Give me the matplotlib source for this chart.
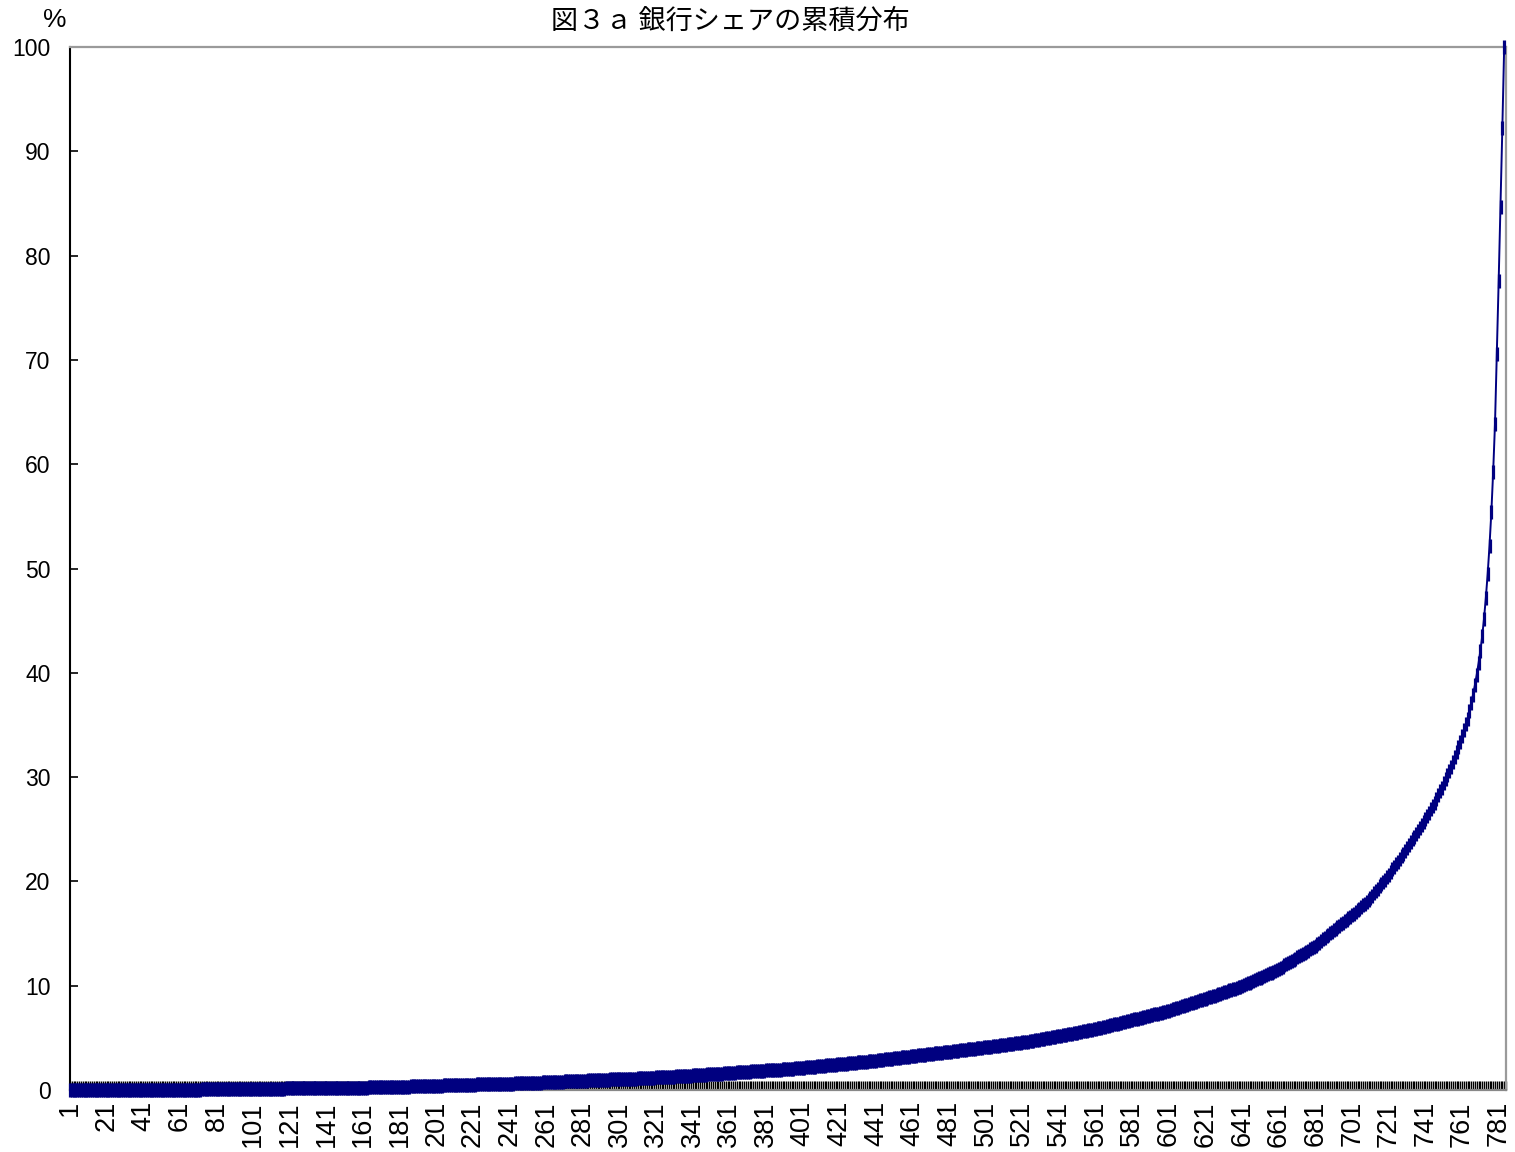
import matplotlib
matplotlib.use("Agg")
import matplotlib.pyplot as plt
from matplotlib.ticker import FixedLocator, FuncFormatter

title = "図３ａ 銀行シェアの累積分布"
y_unit = "%"

# cumulative share (%) of banks sorted by size, smallest first
cum_share = [
    0.00, 0.00, 0.00, 0.00, 0.00, 0.00, 0.00, 0.00, 0.00, 0.00,
    0.00, 0.00, 0.00, 0.00, 0.00, 0.00, 0.00, 0.00, 0.00, 0.00,
    0.01, 0.01, 0.01, 0.01, 0.01, 0.01, 0.01, 0.01, 0.01, 0.01,
    0.01, 0.01, 0.01, 0.01, 0.01, 0.02, 0.02, 0.02, 0.02, 0.02,
    0.02, 0.02, 0.02, 0.02, 0.02, 0.02, 0.02, 0.02, 0.02, 0.02,
    0.03, 0.03, 0.03, 0.03, 0.03, 0.03, 0.03, 0.03, 0.03, 0.03,
    0.03, 0.03, 0.04, 0.04, 0.04, 0.04, 0.04, 0.04, 0.04, 0.04,
    0.04, 0.04, 0.05, 0.05, 0.05, 0.05, 0.05, 0.05, 0.05, 0.06,
    0.06, 0.06, 0.06, 0.06, 0.06, 0.07, 0.07, 0.07, 0.07, 0.07,
    0.08, 0.08, 0.08, 0.08, 0.08, 0.09, 0.09, 0.09, 0.09, 0.09,
    0.10, 0.10, 0.10, 0.10, 0.11, 0.11, 0.11, 0.11, 0.12, 0.12,
    0.12, 0.12, 0.13, 0.13, 0.13, 0.14, 0.14, 0.14, 0.15, 0.15,
    0.15, 0.15, 0.15, 0.16, 0.16, 0.16, 0.16, 0.16, 0.16, 0.16,
    0.16, 0.16, 0.17, 0.17, 0.17, 0.17, 0.17, 0.18, 0.18, 0.18,
    0.18, 0.18, 0.19, 0.19, 0.19, 0.19, 0.19, 0.20, 0.20, 0.20,
    0.20, 0.21, 0.21, 0.21, 0.21, 0.22, 0.22, 0.22, 0.22, 0.22,
    0.23, 0.23, 0.23, 0.24, 0.24, 0.24, 0.25, 0.25, 0.25, 0.26,
    0.26, 0.27, 0.27, 0.27, 0.28, 0.28, 0.29, 0.29, 0.29, 0.30,
    0.31, 0.31, 0.32, 0.32, 0.33, 0.33, 0.34, 0.34, 0.35, 0.36,
    0.36, 0.37, 0.37, 0.38, 0.38, 0.39, 0.39, 0.40, 0.41, 0.41,
    0.42, 0.42, 0.43, 0.43, 0.44, 0.44, 0.45, 0.45, 0.46, 0.46,
    0.47, 0.47, 0.48, 0.48, 0.49, 0.49, 0.50, 0.50, 0.51, 0.51,
    0.52, 0.52, 0.53, 0.53, 0.54, 0.54, 0.55, 0.55, 0.56, 0.56,
    0.57, 0.57, 0.58, 0.58, 0.59, 0.59, 0.60, 0.60, 0.60, 0.61,
    0.61, 0.62, 0.62, 0.63, 0.63, 0.63, 0.64, 0.64, 0.65, 0.65,
    0.66, 0.66, 0.67, 0.68, 0.69, 0.70, 0.70, 0.71, 0.72, 0.73,
    0.74, 0.75, 0.75, 0.76, 0.77, 0.78, 0.79, 0.80, 0.81, 0.81,
    0.82, 0.83, 0.84, 0.85, 0.85, 0.86, 0.87, 0.88, 0.88, 0.89,
    0.90, 0.91, 0.91, 0.92, 0.93, 0.94, 0.94, 0.95, 0.96, 0.97,
    0.97, 0.98, 0.99, 1.00, 1.00, 1.01, 1.02, 1.02, 1.03, 1.04,
    1.04, 1.05, 1.06, 1.06, 1.07, 1.08, 1.08, 1.09, 1.10, 1.10,
    1.11, 1.12, 1.13, 1.14, 1.14, 1.15, 1.16, 1.17, 1.18, 1.19,
    1.20, 1.21, 1.21, 1.22, 1.23, 1.24, 1.25, 1.26, 1.27, 1.28,
    1.29, 1.30, 1.31, 1.32, 1.33, 1.35, 1.36, 1.37, 1.38, 1.39,
    1.40, 1.41, 1.42, 1.43, 1.44, 1.46, 1.47, 1.48, 1.49, 1.50,
    1.52, 1.53, 1.54, 1.55, 1.56, 1.57, 1.58, 1.60, 1.61, 1.62,
    1.63, 1.65, 1.66, 1.67, 1.68, 1.70, 1.71, 1.72, 1.73, 1.74,
    1.76, 1.77, 1.78, 1.79, 1.80, 1.81, 1.83, 1.84, 1.85, 1.86,
    1.87, 1.88, 1.89, 1.90, 1.91, 1.93, 1.94, 1.95, 1.96, 1.97,
    1.98, 1.99, 2.00, 2.02, 2.03, 2.05, 2.07, 2.08, 2.10, 2.12,
    2.13, 2.15, 2.17, 2.18, 2.20, 2.22, 2.23, 2.25, 2.27, 2.28,
    2.30, 2.32, 2.33, 2.35, 2.37, 2.38, 2.40, 2.42, 2.43, 2.45,
    2.47, 2.49, 2.50, 2.52, 2.54, 2.56, 2.57, 2.59, 2.61, 2.63,
    2.64, 2.66, 2.68, 2.70, 2.71, 2.73, 2.75, 2.77, 2.78, 2.80,
    2.82, 2.84, 2.86, 2.88, 2.91, 2.93, 2.95, 2.97, 2.99, 3.01,
    3.03, 3.05, 3.07, 3.09, 3.12, 3.14, 3.16, 3.18, 3.20, 3.22,
    3.24, 3.26, 3.28, 3.31, 3.33, 3.35, 3.37, 3.39, 3.41, 3.44,
    3.46, 3.48, 3.50, 3.52, 3.54, 3.57, 3.59, 3.61, 3.63, 3.65,
    3.67, 3.69, 3.71, 3.74, 3.76, 3.78, 3.80, 3.82, 3.84, 3.87,
    3.89, 3.91, 3.93, 3.95, 3.97, 4.00, 4.02, 4.04, 4.06, 4.08,
    4.10, 4.13, 4.15, 4.17, 4.19, 4.22, 4.24, 4.26, 4.28, 4.31,
    4.33, 4.35, 4.37, 4.40, 4.42, 4.44, 4.46, 4.49, 4.51, 4.53,
    4.56, 4.59, 4.62, 4.65, 4.68, 4.71, 4.74, 4.77, 4.80, 4.83,
    4.86, 4.89, 4.92, 4.95, 4.98, 5.01, 5.04, 5.07, 5.10, 5.13,
    5.16, 5.20, 5.23, 5.27, 5.30, 5.34, 5.37, 5.41, 5.44, 5.48,
    5.51, 5.54, 5.58, 5.61, 5.65, 5.68, 5.72, 5.75, 5.79, 5.82,
    5.86, 5.91, 5.95, 5.99, 6.03, 6.08, 6.12, 6.16, 6.20, 6.25,
    6.29, 6.33, 6.37, 6.42, 6.46, 6.50, 6.54, 6.59, 6.63, 6.67,
    6.71, 6.76, 6.80, 6.85, 6.89, 6.93, 6.98, 7.02, 7.07, 7.11,
    7.15, 7.20, 7.24, 7.29, 7.33, 7.37, 7.42, 7.46, 7.51, 7.55,
    7.61, 7.67, 7.72, 7.78, 7.84, 7.90, 7.95, 8.01, 8.07, 8.13,
    8.18, 8.24, 8.30, 8.36, 8.41, 8.47, 8.53, 8.59, 8.64, 8.70,
    8.76, 8.82, 8.88, 8.94, 9.00, 9.06, 9.12, 9.18, 9.24, 9.30,
    9.36, 9.42, 9.48, 9.54, 9.60, 9.66, 9.72, 9.78, 9.84, 9.90,
    9.98, 10.06, 10.14, 10.22, 10.30, 10.38, 10.46, 10.54, 10.62, 10.70,
    10.78, 10.86, 10.94, 11.02, 11.10, 11.18, 11.26, 11.34, 11.42, 11.50,
    11.61, 11.72, 11.83, 11.94, 12.05, 12.16, 12.27, 12.38, 12.49, 12.60,
    12.71, 12.82, 12.93, 13.04, 13.15, 13.26, 13.37, 13.48, 13.59, 13.70,
    13.85, 13.99, 14.14, 14.28, 14.43, 14.57, 14.72, 14.86, 15.01, 15.15,
    15.30, 15.44, 15.59, 15.73, 15.88, 16.02, 16.17, 16.31, 16.46, 16.60,
    16.76, 16.92, 17.08, 17.24, 17.40, 17.56, 17.72, 17.88, 18.04, 18.20,
    18.42, 18.64, 18.86, 19.08, 19.30, 19.52, 19.74, 19.96, 20.18, 20.40,
    20.65, 20.90, 21.15, 21.40, 21.65, 21.90, 22.15, 22.40, 22.65, 22.90,
    23.18, 23.46, 23.74, 24.02, 24.30, 24.58, 24.86, 25.14, 25.42, 25.70,
    26.00, 26.30, 26.60, 26.90, 27.20, 27.50, 27.87, 28.25, 28.62, 29.00,
    29.40, 29.80, 30.20, 30.60, 31.00, 31.48, 31.96, 32.44, 32.92, 33.40,
    33.95, 34.50, 35.05, 35.60, 36.30, 37.10, 37.90, 38.80, 39.80, 40.90,
    42.10, 43.50, 45.20, 47.20, 49.50, 52.20, 55.40, 59.30, 63.90, 70.60,
    77.60, 84.70, 92.20, 100.00,
]
bank_rank = list(range(1, len(cum_share) + 1))
x_axis_max = 785
x_label_step = 20
y_ticks = [0, 10, 20, 30, 40, 50, 60, 70, 80, 90, 100]

W, H = 1515, 1152
fig = plt.figure(figsize=(W / 100, H / 100), dpi=100)
num_font = ["Liberation Sans", "DejaVu Sans"]
ax = fig.add_axes([70 / W, 1 - 1090 / H, 1436 / W, 1043 / H])

navy = "#000080"
ax.plot(bank_rank, cum_share, color=navy, lw=1.4, marker="|",
        markersize=10.5, markeredgewidth=2.3, markeredgecolor=navy,
        zorder=5, clip_on=False)

ax.set_xlim(1, x_axis_max)
ax.set_ylim(0, 100)

all_ticks = list(range(1, x_axis_max + 1))
ax.xaxis.set_major_locator(FixedLocator(all_ticks))
ax.xaxis.set_major_formatter(
    FuncFormatter(lambda v, p: str(int(round(v))) if (int(round(v)) - 1) % x_label_step == 0 else ""))
ax.set_yticks(y_ticks)

ax.tick_params(axis="x", direction="in", length=6.5, width=1.0, color="black",
               pad=8, labelsize=19.5, labelrotation=90)
ax.tick_params(axis="y", direction="in", length=6, width=1.2, color="black",
               pad=14, labelsize=16.5)
for lab in ax.get_xticklabels() + ax.get_yticklabels():
    lab.set_family(num_font)

for s in ["top", "right"]:
    ax.spines[s].set_color("#9a9a9a")
    ax.spines[s].set_linewidth(1.6)
ax.spines["bottom"].set_color("#888888")
ax.spines["bottom"].set_linewidth(1.6)
ax.spines["left"].set_color("black")
ax.spines["left"].set_linewidth(1.5)

fig.text(55 / W, 1 - 20 / H, y_unit, ha="center", va="center",
         fontsize=19, family=num_font)
fig.text(730 / W, 1 - 21 / H, title, ha="center", va="center",
         fontsize=19.5, family=["Noto Sans CJK JP", "DejaVu Sans"])

fig.savefig("out.png", dpi=100)
